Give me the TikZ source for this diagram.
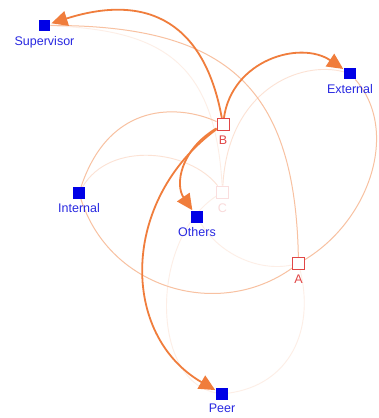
\documentclass[tikz,border=0pt]{standalone}
\usepackage{fontspec}
\setmainfont{Liberation Sans}
\usetikzlibrary{arrows.meta}
\definecolor{nodeblue}{RGB}{0,0,230}
\definecolor{labblue}{RGB}{40,40,225}
\definecolor{edgeor}{RGB}{240,125,60}
\definecolor{evred}{RGB}{225,70,70}
\tikzset{
  actor/.style={fill=nodeblue, draw=none, minimum size=11.5pt, inner sep=0pt},
  event/.style={draw=evred, fill=white, line width=0.9pt, minimum size=12pt, inner sep=0pt},
  faintevent/.style={draw=evred!18, fill=none, line width=0.9pt, minimum size=12pt, inner sep=0pt},
  lab/.style={text=labblue, font=\fontsize{12.5}{14}\selectfont, inner sep=0pt, text height=9pt, text depth=2.5pt, anchor=north},
  evlab/.style={text=evred, font=\fontsize{12.5}{14}\selectfont, inner sep=0pt, text height=9pt, text depth=2.5pt, anchor=north},
  strong/.style={draw=edgeor, line width=1.8pt, -{Triangle[length=16pt,width=15pt]}, shorten >=1pt},
  medium/.style={draw=edgeor!48, line width=1pt},
  faint/.style={draw=edgeor!22, line width=0.9pt},
  vfaint/.style={draw=edgeor!13, line width=0.9pt},
}
\begin{document}
\begin{tikzpicture}[x=1pt,y=-1pt]
\path[use as bounding box, fill=white] (0,0) rectangle (379,418);
% nodes
\node[actor] (sup) at (44.5,25.5) {};
\node[actor] (ext) at (350,73.5) {};
\node[actor] (int) at (79,193) {};
\node[actor] (oth) at (197,217) {};
\node[actor] (peer) at (222,394) {};
\node[faintevent] (C) at (222.5,192) {};
\node[event] (A) at (298.5,263.5) {};
\node[event] (B) at (223,124.5) {};
% faint edges
\draw[vfaint] (C) .. controls (215,60) and (160,30) .. (sup);
\draw[faint] (C) .. controls (228,90) and (300,60) .. (ext);
\draw[faint] (C) .. controls (190,150) and (110,140) .. (int);
\draw[vfaint] (C) .. controls (150,240) and (150,380) .. (peer);
\draw[vfaint] (oth) .. controls (220,255) and (260,272) .. (A);
\draw[vfaint] (A) .. controls (315,330) and (290,385) .. (peer);
% medium edges
\draw[medium] (B) .. controls (180,105) and (110,100) .. (int);
\draw[medium] (sup) .. controls (230,25) and (295,90) .. (A);
\draw[medium] (int) .. controls (110,290) and (220,320) .. (A);
\draw[medium] (A) .. controls (370,220) and (400,130) .. (ext);
% strong edges
\draw[strong] (B) .. controls (205,25) and (150,-8) .. (sup);
\draw[strong] (B) .. controls (232,60) and (300,40) .. (ext);
\draw[strong] (B) .. controls (180,150) and (175,185) .. (oth);
\draw[strong] (B) .. controls (120,200) and (120,335) .. (peer);
% redraw squares on top
\node[event] at (B) {};
\node[event] at (A) {};
\node[actor] at (sup) {};
\node[actor] at (ext) {};
\node[actor] at (int) {};
\node[actor] at (oth) {};
\node[actor] at (peer) {};
% labels
\node[lab] (supL) at ([yshift=-4.5pt]sup.south) {Supervisor};
\node[lab] (extL) at ([yshift=-4.5pt]ext.south) {External};
\node[lab] (intL) at ([yshift=-4.5pt]int.south) {Internal};
\node[lab] (othL) at ([yshift=-4.5pt]oth.south) {Others};
\node[lab] (peerL) at ([yshift=-3.5pt]peer.south) {Peer};
\node[evlab] (BL) at ([yshift=-4.5pt]B.south) {B};
\node[evlab] (AL) at ([yshift=-4.5pt]A.south) {A};
\node[evlab, text=evred!20] (CL) at ([yshift=-4.5pt]C.south) {C};
\end{tikzpicture}
\end{document}
